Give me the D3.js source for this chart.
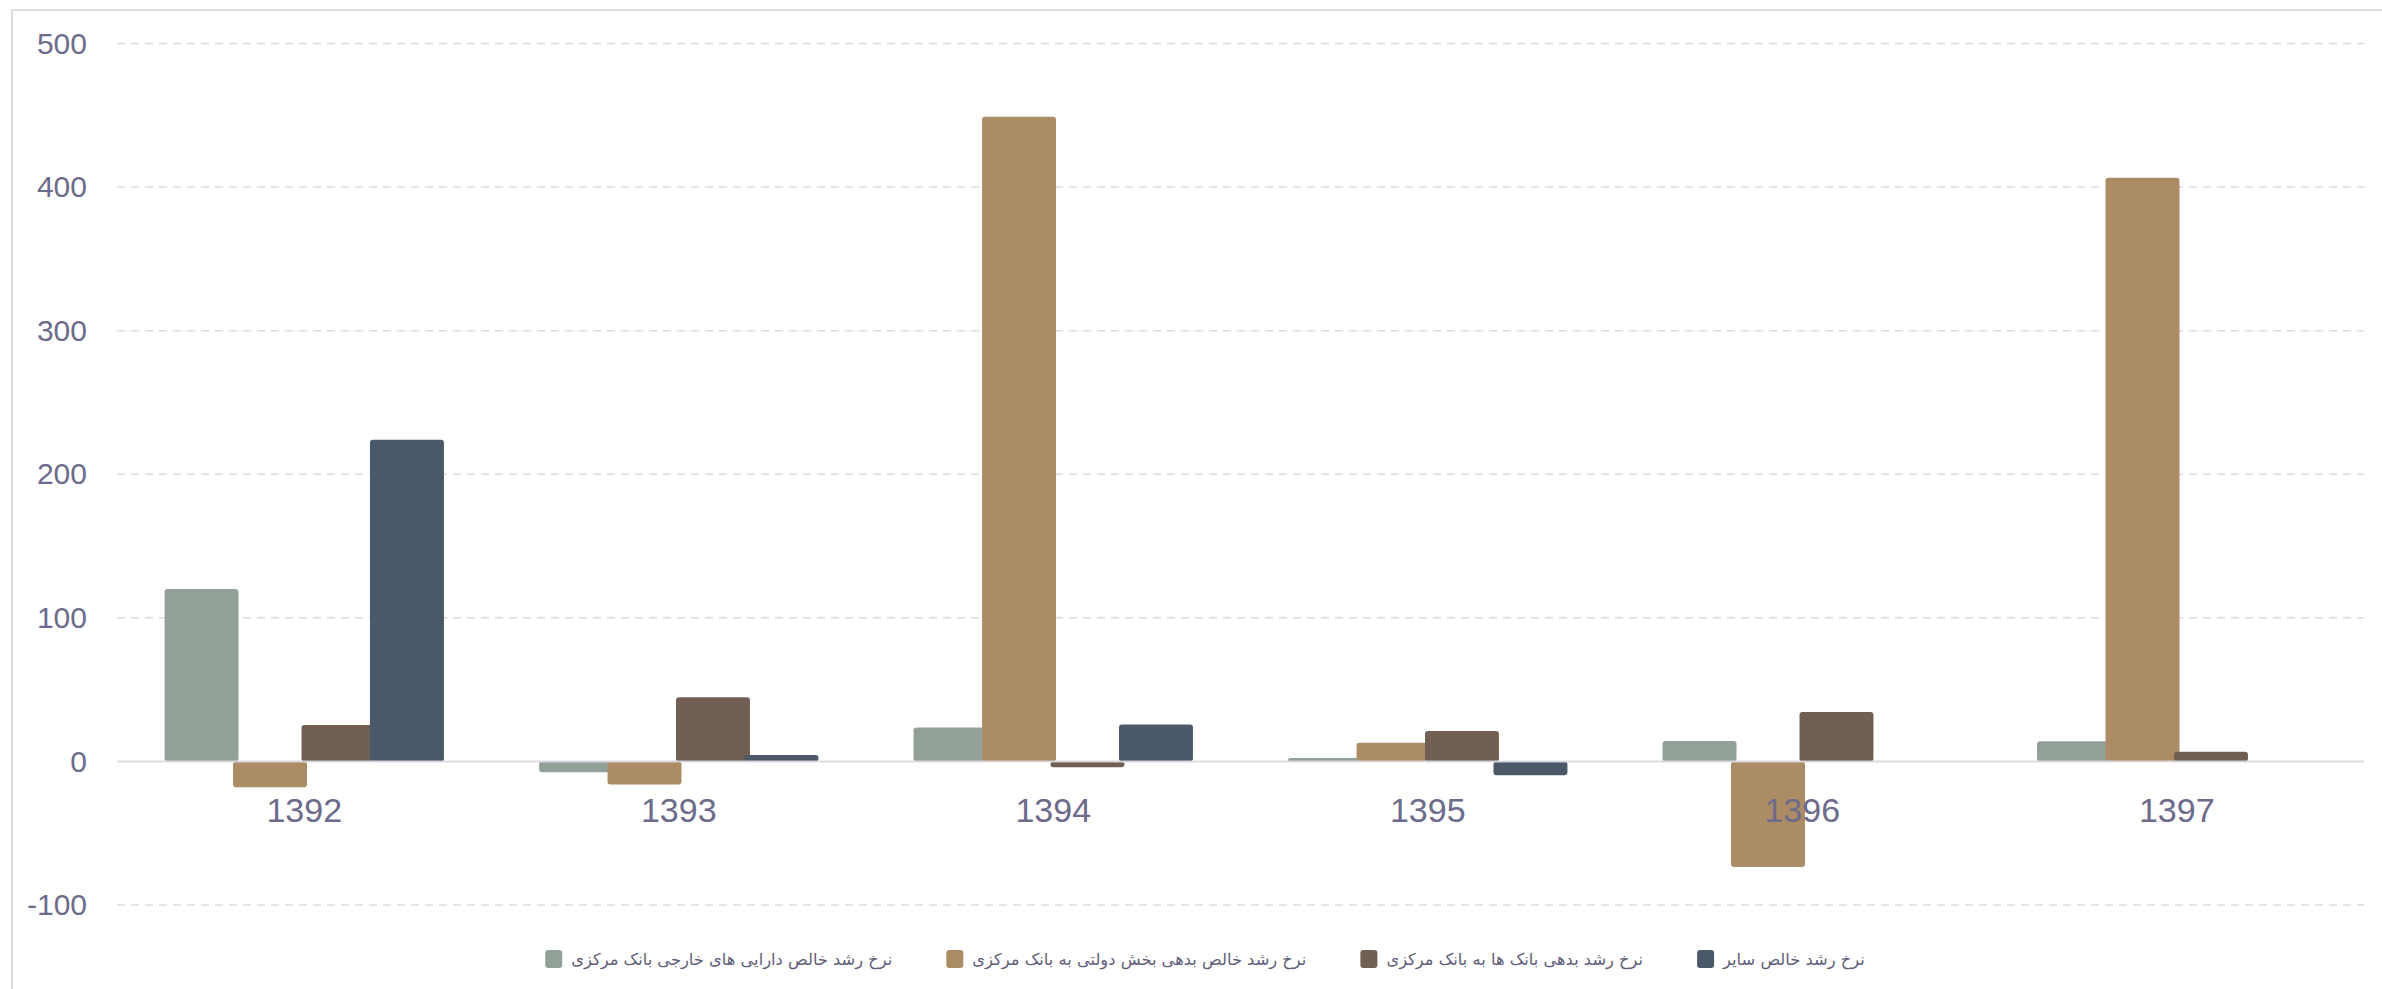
<!DOCTYPE html>
<html>
<head>
<meta charset="utf-8">
<script src="https://cdn.jsdelivr.net/npm/d3@7"></script>
<style>
  body { margin: 0; background: #fff; }
  svg { display: block; }
</style>
</head>
<body>
<div class="chart"></div>
<script>
const width = 2382;
const height = 989;

// data
const years = ["1392", "1393", "1394", "1395", "1396", "1397"];
const foreignAssets = [120, -7.5, 23.6, 2.4, 14.3, 14];
const govDebt = [-18, -16, 449, 13, -73.5, 406.5];
const bankDebt = [25.4, 44.7, -4, 21.2, 34.5, 6.8];
const otherNet = [224, 4.5, 25.7, -9.6, null, null];
const yTicks = [-100, 0, 100, 200, 300, 400, 500];

const seriesNames = [
    "نرخ رشد خالص دارایی های خارجی بانک مرکزی",
    "نرخ رشد خالص بدهی بخش دولتی به بانک مرکزی",
    "نرخ رشد بدهی بانک ها به بانک مرکزی",
    "نرخ رشد خالص سایر"
];
const seriesValues = [foreignAssets, govDebt, bankDebt, otherNet];
const colors = ["#92a198", "#ab8c64", "#725f54", "#4b5869"];

const svg = d3.select(".chart")
    .append("svg")
    .attr("width", width)
    .attr("height", height);

// frame
svg.append("path")
    .attr("d", `M12,${height} L12,10 L${width},10`)
    .attr("fill", "none")
    .attr("stroke", "#dcdce2")
    .attr("stroke-width", 2);

const x0 = d3.scaleBand()
    .domain(years)
    .range([117, 2364])
    .paddingInner(0.254)
    .paddingOuter(0.127);

const keys = d3.range(seriesValues.length);
const x1 = d3.scaleBand()
    .domain(keys)
    .range([0, x0.bandwidth() / 4.08 * 4]);
const barW = x1.bandwidth() * 1.08;

const y = d3.scaleLinear()
    .domain([-100, 500])
    .range([905, 43.5]);

// gridlines
svg.append("g")
    .selectAll("line")
    .data(yTicks.filter(d => d !== 0))
    .join("line")
    .attr("x1", 117)
    .attr("x2", 2364)
    .attr("y1", d => y(d))
    .attr("y2", d => y(d))
    .attr("stroke", "#dcdce2")
    .attr("stroke-width", 1.5)
    .attr("stroke-dasharray", "8,6");

// y axis labels (plain hyphen for negatives, like the original)
const yAxis = svg.append("g")
    .attr("transform", "translate(87,0)")
    .call(d3.axisLeft(y).tickValues(yTicks).tickFormat(d => String(d)).tickSize(0).tickPadding(0));
yAxis.select(".domain").remove();
yAxis.selectAll("text")
    .attr("font-family", "'Liberation Sans', Arial, sans-serif")
    .attr("font-size", 30)
    .attr("fill", "#6d6b8c");

// bars
const rows = [];
years.forEach((yr, i) => {
    keys.forEach(k => {
        const v = seriesValues[k][i];
        if (v !== null) rows.push({ year: yr, key: k, value: v });
    });
});

svg.append("g")
    .selectAll("rect")
    .data(rows)
    .join("rect")
    .attr("x", d => x0(d.year) + x1(d.key))
    .attr("y", d => y(Math.max(0, d.value)))
    .attr("width", barW)
    .attr("height", d => Math.abs(y(d.value) - y(0)))
    .attr("rx", 3)
    .attr("fill", d => colors[d.key]);

// zero line drawn over the bars
svg.append("line")
    .attr("x1", 117)
    .attr("x2", 2364)
    .attr("y1", y(0))
    .attr("y2", y(0))
    .attr("stroke", "#d8d8e0")
    .attr("stroke-opacity", 0.9)
    .attr("stroke-width", 2);

// x axis labels
const xAxis = svg.append("g")
    .attr("transform", `translate(0,${y(0)})`)
    .call(d3.axisBottom(x0).tickSize(0).tickPadding(36));
xAxis.select(".domain").remove();
xAxis.selectAll("text")
    .attr("font-family", "'Liberation Sans', Arial, sans-serif")
    .attr("font-size", 34)
    .attr("fill", "#6d6b8c");

// legend
const legend = svg.append("g");
let lx = 0;
seriesNames.forEach((name, k) => {
    const item = legend.append("g").attr("transform", `translate(${lx},0)`);
    item.append("rect")
        .attr("x", 0)
        .attr("y", -9)
        .attr("width", 17)
        .attr("height", 18)
        .attr("rx", 3)
        .attr("fill", colors[k]);
    const t = item.append("text")
        .attr("x", 26)
        .attr("y", 0)
        .attr("dy", "0.35em")
        .attr("font-family", "'DejaVu Sans', sans-serif")
        .attr("font-size", 16.3)
        .attr("fill", "#5f5e7a")
        .text(name);
    lx += 26 + t.node().getComputedTextLength() + 54;
});
const legendW = lx - 54;
legend.attr("transform", `translate(${1205 - legendW / 2},959)`);
</script>
</body>
</html>
